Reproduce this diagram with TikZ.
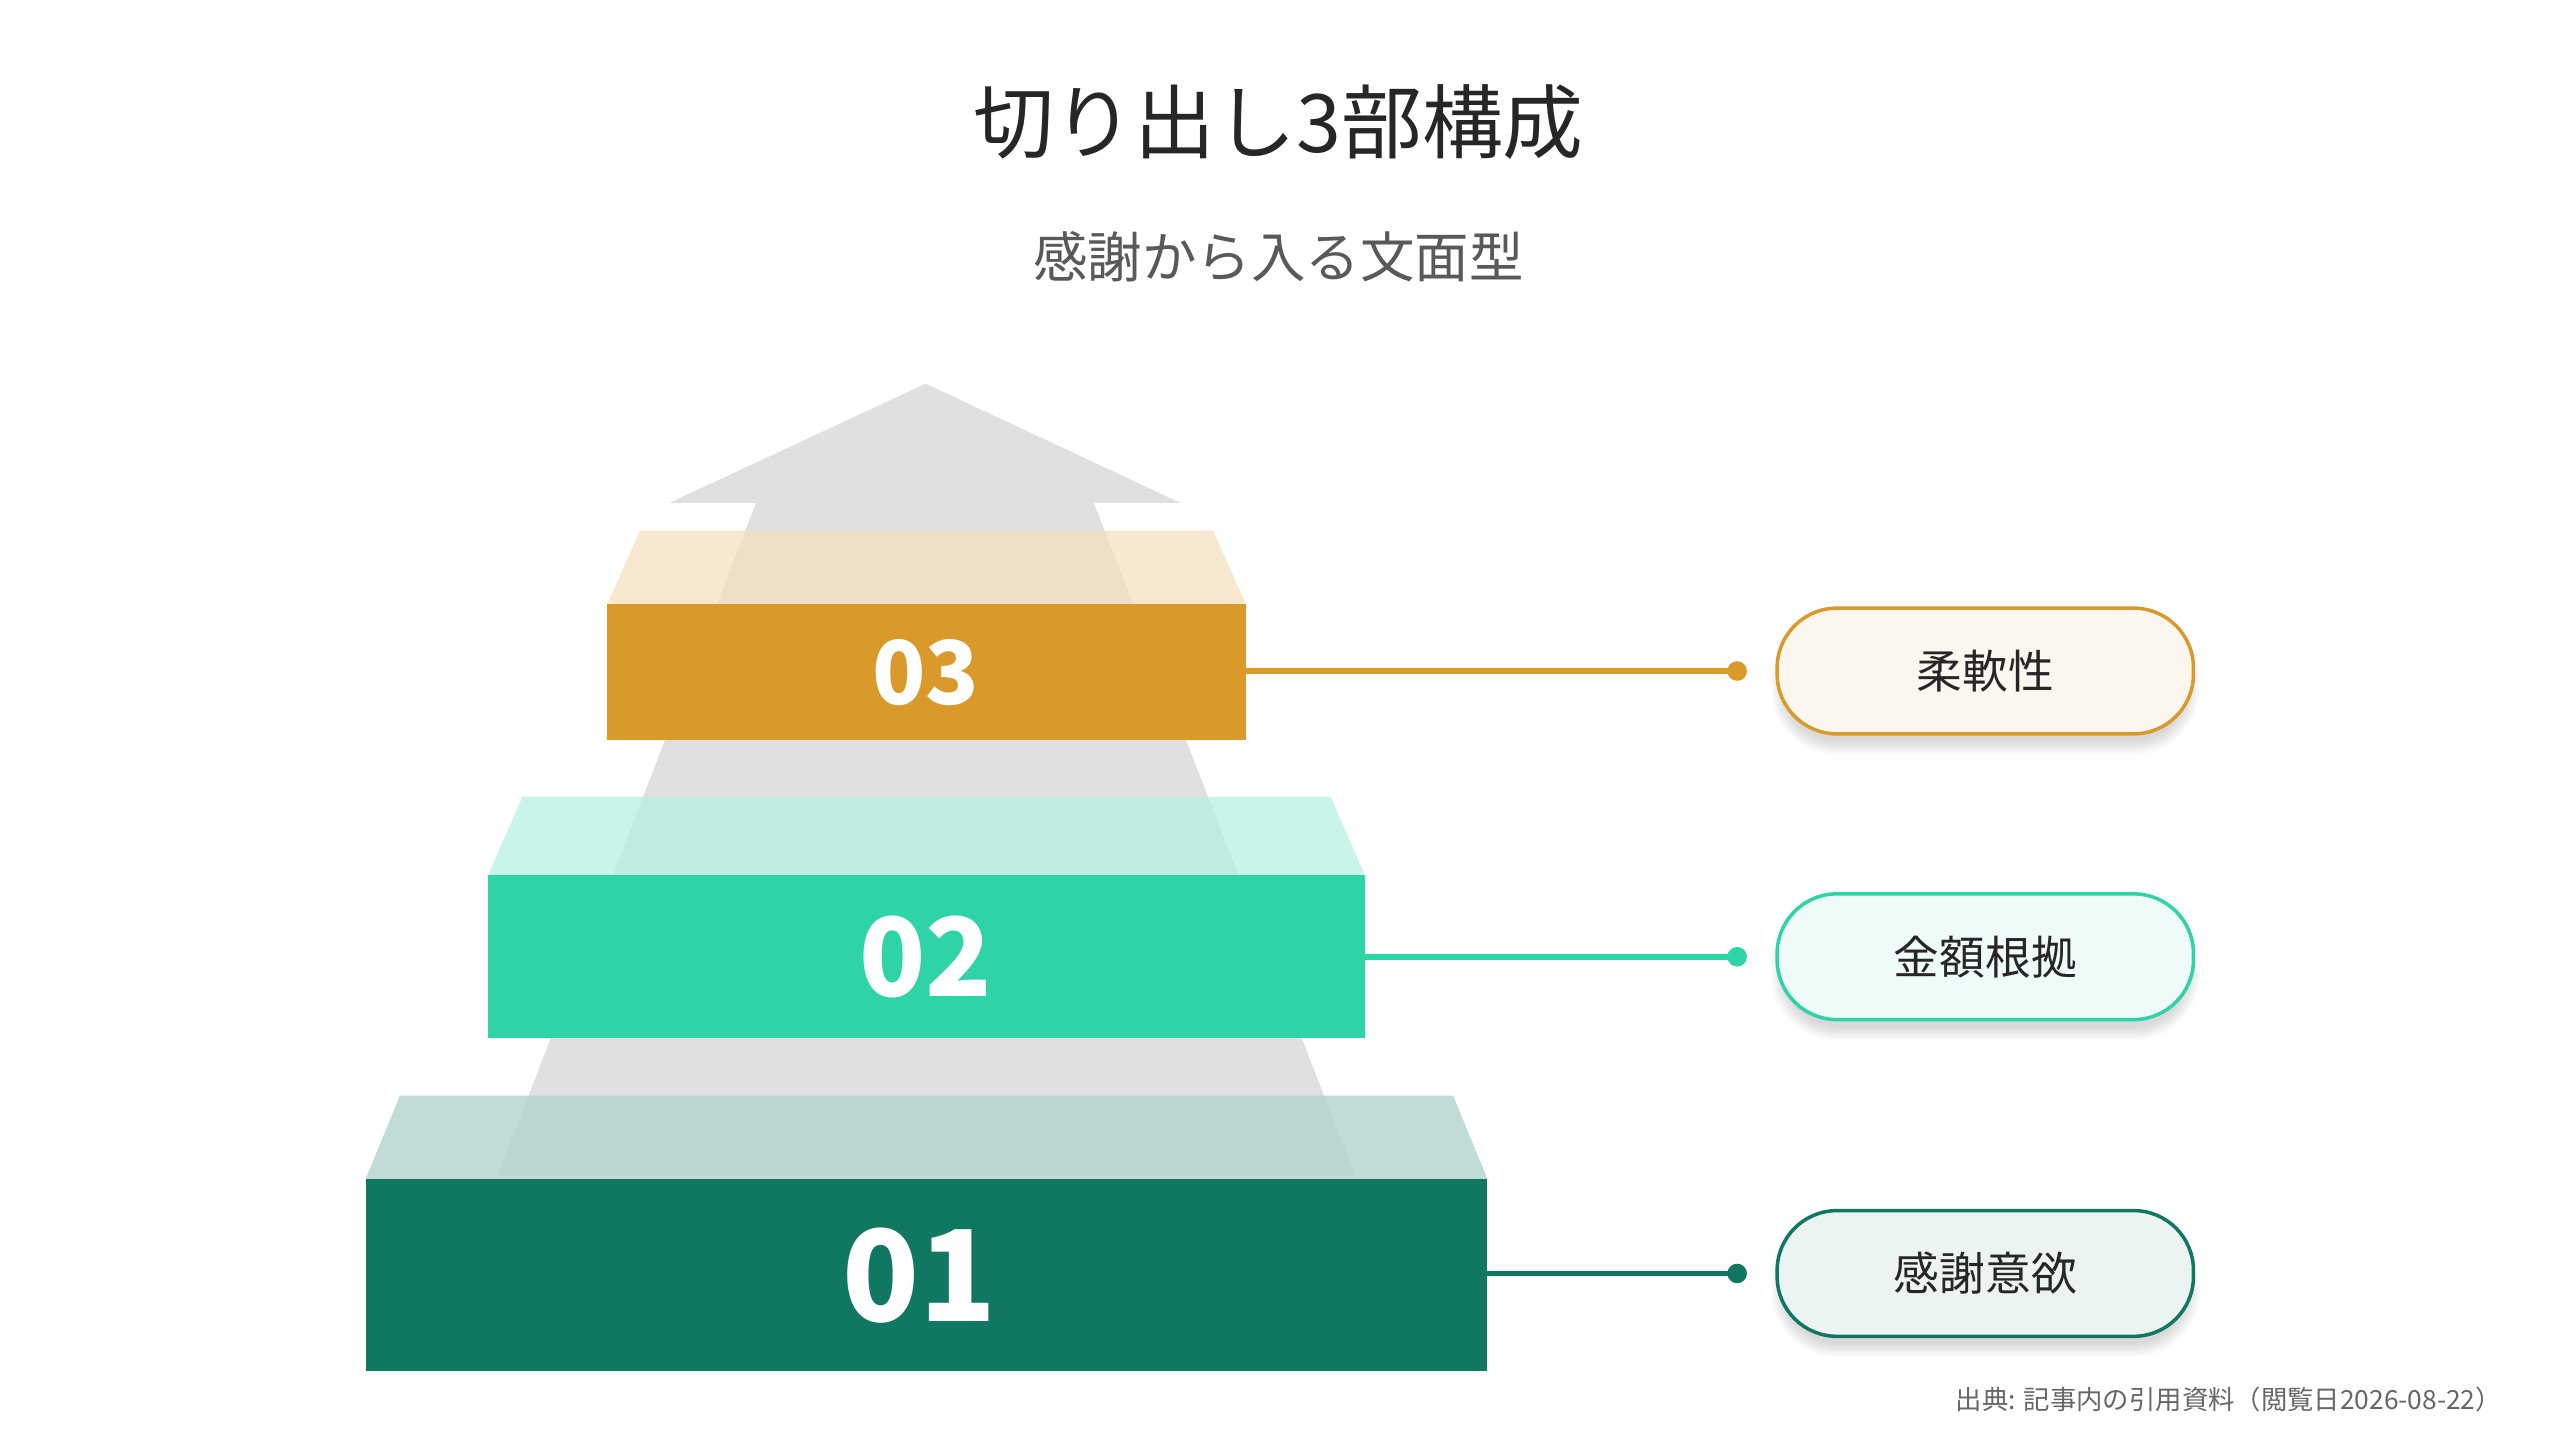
\documentclass[tikz,border=0pt]{standalone}
\usepackage{fontspec}
\setmainfont{Noto Sans CJK JP}
\usetikzlibrary{shadows.blur}
\definecolor{amber}{HTML}{D99A2B}
\definecolor{mint}{HTML}{2ED3A8}
\definecolor{pine}{HTML}{0F7762}
\definecolor{arrowgray}{HTML}{E0E0E0}
\tikzstyle{front}=[draw=none]
\tikzstyle{num}=[text=white, font=\bfseries]
\tikzstyle{pill}=[rounded corners=17pt, minimum width=255*0.016327cm,
        minimum height=77*0.016327cm, line width=1pt, font=\fontsize{13}{15}\selectfont,
        text=black!85, blur shadow={shadow xshift=0pt, shadow yshift=-4pt, shadow opacity=15, shadow blur steps=8}]
\tikzstyle{link}=[line width=1.6pt]

\begin{document}
\begin{tikzpicture}[x=0.016327cm, y=-0.016327cm]
    \useasboundingbox (0,0) rectangle (1568,882);

    \node[text=black!85, font=\fontsize{23}{26}\selectfont] (title) at (783,75) {切り出し3部構成};
    \node[text=black!65, font=\fontsize{15.5}{18}\selectfont] (subtitle) at (783,157) {感謝から入る文面型};

    % arrow behind the slabs
    \fill[arrowgray] (567,235) -- (723,308) -- (670,308) -- (830,720) -- (305,720) -- (463,308) -- (410,308) -- cycle;

    % slab 03
    \fill[amber!30, opacity=0.75] (392,325) -- (743,325) -- (763,370) -- (372,370) -- cycle;
    \fill[amber] (372,370) rectangle (763,453);
    \node[num, font=\bfseries\fontsize{25}{28}\selectfont] (n3) at (567,412) {03};

    % slab 02
    \fill[mint!35, opacity=0.75] (320,488) -- (815,488) -- (836,536) -- (299,536) -- cycle;
    \fill[mint] (299,536) rectangle (836,636);
    \node[num, font=\bfseries\fontsize{31}{34}\selectfont] (n2) at (567,586) {02};

    % slab 01
    \fill[pine!32, opacity=0.8] (245,671) -- (890,671) -- (911,722) -- (224,722) -- cycle;
    \fill[pine] (224,722) rectangle (911,840);
    \node[num, font=\bfseries\fontsize{36}{40}\selectfont] (n1) at (563,781) {01};

    % labels
    \node[pill, draw=amber, fill=amber!8] (p3) at (1216,411) {柔軟性};
    \node[pill, draw=mint, fill=mint!8] (p2) at (1216,586) {金額根拠};
    \node[pill, draw=pine, fill=pine!8] (p1) at (1216,780) {感謝意欲};

    \coordinate (s3) at (763,411);
    \coordinate (s2) at (836,586);
    \coordinate (s1) at (911,780);
    \coordinate (d3) at (1064,411);
    \coordinate (d2) at (1064,586);
    \coordinate (d1) at (1064,780);
    \draw[link, amber] (s3) -- (d3);
    \draw[link, mint] (s2) -- (d2);
    \draw[link, pine] (s1) -- (d1);
    \fill[amber] (d3) circle (6);
    \fill[mint] (d2) circle (6);
    \fill[pine] (d1) circle (6);

    \node[anchor=east, text=black!60, font=\fontsize{7.5}{9}\selectfont] (source) at (1540,857) {出典: 記事内の引用資料（閲覧日2026-08-22）};
\end{tikzpicture}
\end{document}
